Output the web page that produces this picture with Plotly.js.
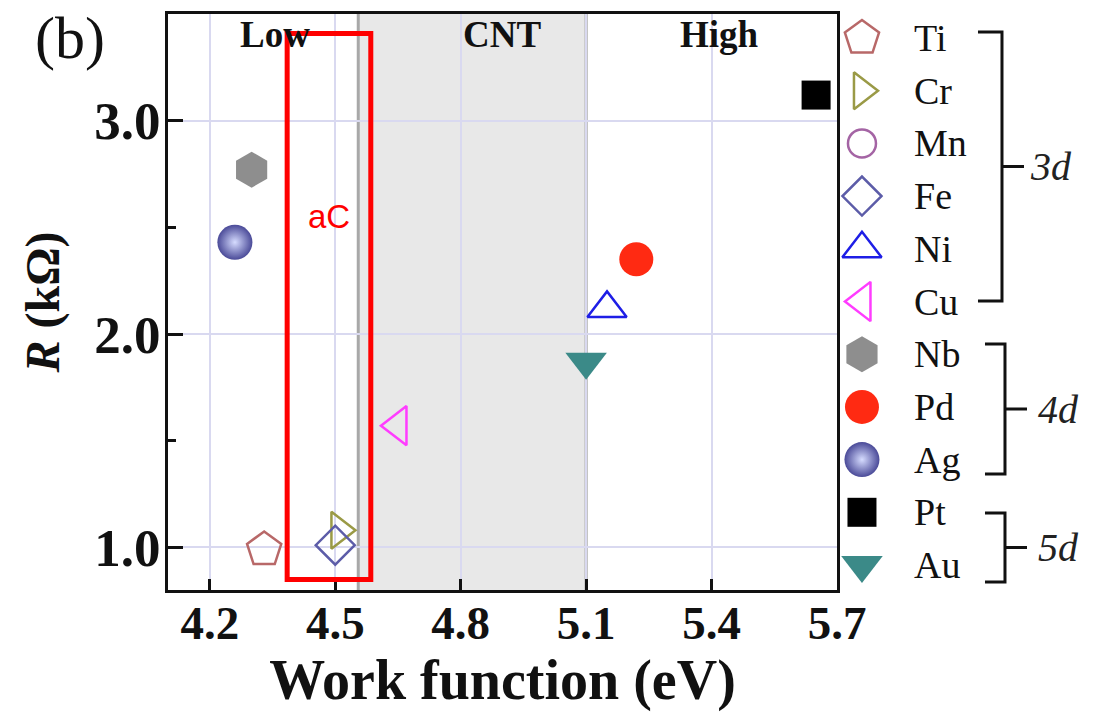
<!DOCTYPE html>
<html>
<head>
<meta charset="utf-8">
<script src="https://cdn.plot.ly/plotly-3.0.1.min.js"></script>
<style>html,body{margin:0;padding:0;background:#fff;}#chart{width:1098px;height:727px;}</style>
</head>
<body>
<div id="chart"></div>
<script>
// ---- data ----
const elements = ['Ti', 'Cr', 'Mn', 'Fe', 'Ni', 'Cu', 'Nb', 'Pd', 'Ag', 'Pt', 'Au'];
const workFunction = [4.33, 4.51, null, 4.50, 5.15, 4.65, 4.30, 5.22, 4.26, 5.65, 5.10];
const resistance = [0.99, 1.08, null, 1.01, 2.12, 1.57, 2.77, 2.35, 2.43, 3.12, 1.87];
const symbols = ['pentagon-open', 'triangle-right-open', 'circle-open', 'diamond-open', 'triangle-up-open',
  'triangle-left-open', 'hexagon', 'circle', 'circle', 'square', 'triangle-down'];
const colors = ['#b86868', '#9a9a46', '#a464a4', '#5c5ca8', '#1e1ee6', '#ff3cff',
  '#8e8e8e', '#ff2a12', '#4a4a98', '#000000', '#3b8a88'];
const sizes = [36, 32, 28, 30, 34, 34, 36, 34, 35, 29, 36];
const xTickLabels = ['4.2', '4.5', '4.8', '5.1', '5.4', '5.7'];
const xTickVals = [4.2, 4.5, 4.8, 5.1, 5.4, 5.7];
const yTickLabels = ['1.0', '2.0', '3.0'];
const yTickVals = [1.0, 2.0, 3.0];
const regionNames = ['Low', 'CNT', 'High'];
const regionLabelX = [4.356, 4.898, 5.418];
const cntBounds = [4.555, 5.1];
const aCBox = [4.385, 4.585, 0.849, 3.409];
const groups = [
  {name: '3d', first: 0, last: 5},
  {name: '4d', first: 6, last: 8},
  {name: '5d', first: 9, last: 10}
];

const serif = 'Liberation Serif, Times New Roman, serif';

const traces = [];
elements.forEach((el, i) => {
  const open = symbols[i].endsWith('-open');
  const marker = {
    symbol: symbols[i], size: sizes[i], color: colors[i],
    line: {color: colors[i], width: open ? 2.5 : 0}
  };
  if (el === 'Ag') marker.gradient = {type: 'radial', color: '#d6dcff'};
  traces.push({
    type: 'scatter', mode: 'markers', name: el,
    x: [workFunction[i]], y: [resistance[i]],
    marker: marker, cliponaxis: false, hoverinfo: 'name+x+y'
  });
});

// legend drawn on a helper axis pair (pixel-like units)
const rowY = i => 38 + i * 52.7;
const legMarkX = 862;
elements.forEach((el, i) => {
  const open = symbols[i].endsWith('-open');
  const marker = {
    symbol: symbols[i], size: sizes[i], color: colors[i],
    line: {color: colors[i], width: open ? 2.5 : 0}
  };
  if (el === 'Ag') marker.gradient = {type: 'radial', color: '#d6dcff'};
  traces.push({
    type: 'scatter', mode: 'markers', xaxis: 'x2', yaxis: 'y2',
    x: [legMarkX], y: [rowY(i)], marker: marker, cliponaxis: false, hoverinfo: 'skip'
  });
});

const annotations = [];
elements.forEach((el, i) => {
  annotations.push({xref: 'x2', yref: 'y2', x: 912, y: rowY(i), text: el, showarrow: false,
    xanchor: 'left', yanchor: 'middle', font: {family: serif, size: 38, color: '#111'}});
});
regionNames.forEach((n, i) => {
  annotations.push({xref: 'x', yref: 'y', x: regionLabelX[i], y: 3.405, text: '<b>' + n + '</b>', showarrow: false,
    xanchor: 'center', yanchor: 'middle', font: {family: serif, size: 37, color: '#111'}});
});
annotations.push({xref: 'paper', yref: 'paper', x: -0.1054, y: 0.958, text: '(b)', showarrow: false,
  xanchor: 'center', yanchor: 'middle', font: {family: serif, size: 60, color: '#111'}});
annotations.push({xref: 'x', yref: 'y', x: (aCBox[0] + aCBox[1]) / 2, y: 2.55, text: 'aC', showarrow: false,
  xanchor: 'center', yanchor: 'middle', font: {family: 'Liberation Sans, Arial, sans-serif', size: 33, color: '#ff0000'}});

const shapes = [
  {type: 'rect', xref: 'x', yref: 'paper', x0: cntBounds[0], x1: cntBounds[1], y0: 0, y1: 1,
    fillcolor: '#e8e8e8', line: {width: 0}, layer: 'below'},
  {type: 'line', xref: 'x', yref: 'paper', x0: cntBounds[0], x1: cntBounds[0], y0: 0, y1: 1,
    line: {color: '#a8a8a8', width: 3}, layer: 'below'},
  {type: 'line', xref: 'x', yref: 'paper', x0: cntBounds[1], x1: cntBounds[1], y0: 0, y1: 1,
    line: {color: '#a0a0a0', width: 3}, layer: 'below'},
  {type: 'rect', xref: 'x', yref: 'y', x0: aCBox[0], x1: aCBox[1], y0: aCBox[2], y1: aCBox[3],
    line: {color: '#ff0000', width: 5}, fillcolor: 'rgba(0,0,0,0)', layer: 'above'}
];
// group brackets
const bracketDef = [
  {top: 32, bottom: 301, vx: 1002, hx: 978, tx: 1024, lx: 1028},
  {top: 344, bottom: 474, vx: 1005, hx: 985, tx: 1027, lx: 1036},
  {top: 513, bottom: 582, vx: 1005, hx: 985, tx: 1027, lx: 1036}
];
groups.forEach((g, k) => {
  const b = bracketDef[k];
  const mid = (b.top + b.bottom) / 2;
  shapes.push({type: 'path', xref: 'x2', yref: 'y2',
    path: `M${b.hx},${b.top} H${b.vx} V${b.bottom} H${b.hx}`, line: {color: '#111', width: 3}});
  shapes.push({type: 'path', xref: 'x2', yref: 'y2',
    path: `M${b.vx},${mid} H${b.tx}`, line: {color: '#111', width: 3}});
  annotations.push({xref: 'x2', yref: 'y2', x: b.lx, y: mid, text: '<i>' + g.name + '</i>', showarrow: false,
    xanchor: 'left', yanchor: 'middle', font: {family: serif, size: 40, color: '#222'}});
});

const layout = {
  width: 1098, height: 727,
  margin: {l: 168, r: 0, t: 14, b: 137},
  paper_bgcolor: '#ffffff', plot_bgcolor: '#ffffff',
  showlegend: false,
  font: {family: serif, color: '#111'},
  xaxis: {
    domain: [0, 0.71935], range: [4.1, 5.7], autorange: false,
    tickvals: xTickVals, ticktext: xTickLabels,
    ticks: 'inside', ticklen: 11, tickwidth: 2.5, tickcolor: '#111',
    showline: true, linewidth: 3, linecolor: '#111', mirror: true,
    showgrid: true, gridcolor: '#d9d9f0', gridwidth: 1.5, zeroline: false,
    tickfont: {family: serif, size: 47, color: '#111', weight: 'bold'},
    ticklabelstandoff: -10,
    title: {text: '<b>Work function (eV)</b>', font: {family: serif, size: 56, color: '#111'}, standoff: 8}
  },
  yaxis: {
    domain: [0, 1], range: [0.8, 3.5], autorange: false,
    tickvals: yTickVals, ticktext: yTickLabels,
    ticks: 'inside', ticklen: 15, tickwidth: 2.5, tickcolor: '#111',
    minor: {tickvals: [1.5, 2.5], ticks: 'inside', ticklen: 8, tickwidth: 2.5, tickcolor: '#111', showgrid: false},
    showline: true, linewidth: 3, linecolor: '#111', mirror: true,
    showgrid: true, gridcolor: '#d9d9f0', gridwidth: 1.5, zeroline: false,
    tickfont: {family: serif, size: 53, color: '#111', weight: 'bold'},
    ticklabelstandoff: -6,
    title: {text: '<b><i>R</i> (kΩ)</b>', font: {family: serif, size: 48, color: '#111'}, standoff: 20}
  },
  xaxis2: {domain: [0.7204, 1], range: [838, 1098], autorange: false, visible: false, fixedrange: true},
  yaxis2: {domain: [0, 1], range: [590, 14], autorange: false, visible: false, fixedrange: true, anchor: 'x2'},
  shapes: shapes,
  annotations: annotations
};

Plotly.newPlot('chart', traces, layout, {displayModeBar: false, responsive: false});
</script>
</body>
</html>
